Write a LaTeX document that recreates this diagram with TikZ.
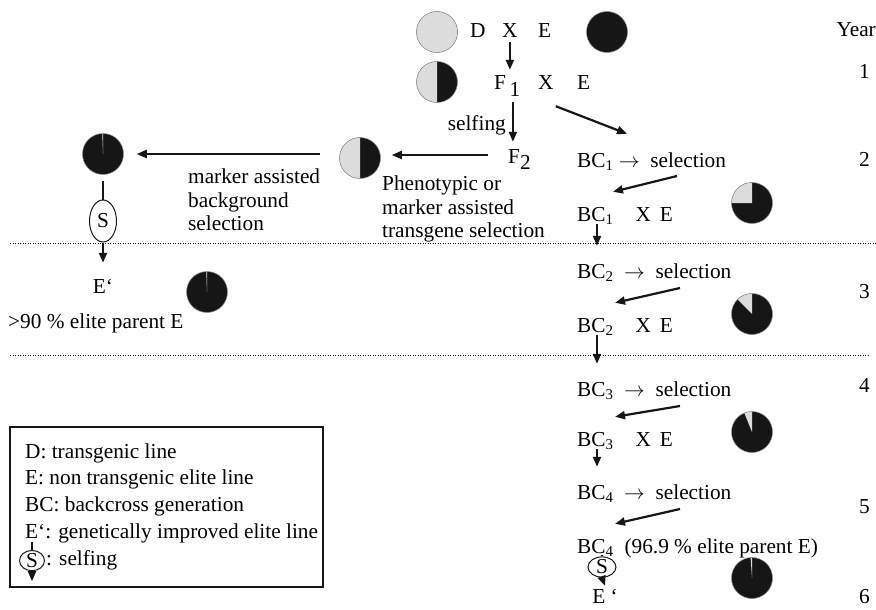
\documentclass[tikz,border=0pt]{standalone}
\usepackage{fontspec}
\setmainfont{Liberation Serif}
\usetikzlibrary{positioning,arrows.meta,shapes.geometric}
\definecolor{ink}{HTML}{161616}
\definecolor{pale}{HTML}{DCDCDC}
\definecolor{rim}{HTML}{8C8C8C}

\begin{document}
\begin{tikzpicture}[x=1pt,y=-1pt,font=\fontsize{21.3}{23.5}\selectfont,
  lbl/.style={inner sep=0pt,text height=14pt,text depth=4pt,anchor=base west},
  para/.style={inner sep=0pt,align=left,anchor=north west},
  flow/.style={-{Triangle[length=10pt,width=8pt]},line width=2.2pt,draw=ink},
  stem/.style={line width=2.4pt,draw=ink},
  disc/.style={circle,minimum size=41pt,inner sep=0pt,fill=ink,draw=rim,line width=0.5pt},
  pie/.style={disc,
    path picture={\fill[pale] (path picture bounding box.center) -- +(90:21pt)
      arc[start angle=90,end angle=90+#1,radius=21pt] -- cycle;}},
  selfnode/.style={ellipse,draw=ink,line width=1pt,inner sep=0pt},
  yearlbl/.style={inner sep=0pt,anchor=base east},
  sep/.style={dotted,draw=ink,line width=0.5pt}]
\useasboundingbox (0,0) rectangle (876,610);

% crossing and F1, F2
\node[pie=360] (donor) at (437,32) {};
\node[lbl] (d) at (470,38) {D};
\node[lbl] (x0) at (502,38) {X};
\node[lbl] (e0) at (538,38) {E};
\node[disc] (elite) at (607,32) {};
\node[pie=180] (hybrid) at (437,82) {};
\node[lbl] (f1) at (494,90) {F\,\raisebox{-6pt}{1}};
\node[lbl] (x1) at (538,90) {X};
\node[lbl] (e1) at (577,90) {E};
\node[lbl,anchor=base east] (selfing) at (506,130) {selfing};
\node[lbl] (f2) at (508,163) {F\raisebox{-6pt}{2}};
\draw[flow] (x0.south) -- ([yshift=6pt]x0.south |- f1.north);
\draw[flow] ([xshift=3pt,yshift=-8pt]x0.south |- f1.south) -- ([xshift=3pt,yshift=7pt]x0.south |- f2.north);

% marker assisted branch
\node[pie=180] (transgen) at (360,158) {};
\node[para] (pheno) at (382,176) {Phenotypic or\\marker assisted\\transgene selection};
\node[pie=2] (bgpie) at (103,154) {};
\node[para] (bgsel) at (188,169) {marker assisted\\background\\selection};
\node[selfnode,minimum width=27pt,minimum height=42pt] (sleft) at (103,221) {S};
\node[lbl,anchor=base] (eleft) at (103,293) {E‘};
\node[pie=2] (finalleft) at (207,292) {};
\node[lbl] (share) at (8,328) {>90 \% elite parent E};
\draw[flow] ([xshift=-20pt,yshift=3pt]f2.west) -- ([xshift=11pt,yshift=3pt]transgen.east);
\draw[flow] ([xshift=-19pt,yshift=4pt]transgen.west) -- ([xshift=13pt]bgpie.east);
\draw[stem] ([yshift=-6pt]bgpie.south) -- (sleft.north);
\draw[flow] (sleft.south) -- ([yshift=16pt]eleft.north);

% backcross branch
\node[lbl] (bc1s) at (577,167) {BC\textsubscript{1} $\rightarrow$\enspace selection};
\node[lbl] (bc1x) at (577,221) {BC\textsubscript{1}\hspace{22pt}X\hspace{9pt}E};
\node[pie=90] (pie1) at (752,203) {};
\node[lbl] (bc2s) at (577,278) {BC\textsubscript{2}\enspace$\rightarrow$\enspace selection};
\node[lbl] (bc2x) at (577,332) {BC\textsubscript{2}\hspace{22pt}X\hspace{9pt}E};
\node[pie=45] (pie2) at (752,314) {};
\node[lbl] (bc3s) at (577,396) {BC\textsubscript{3}\enspace$\rightarrow$\enspace selection};
\node[lbl] (bc3x) at (577,446) {BC\textsubscript{3}\hspace{22pt}X\hspace{9pt}E};
\node[pie=22] (pie3) at (752,432) {};
\node[lbl] (bc4s) at (577,499) {BC\textsubscript{4}\enspace$\rightarrow$\enspace selection};
\node[lbl] (bc4x) at (577,553) {BC\textsubscript{4}\hspace{11pt}(96.9 \% elite parent E)};
\node[selfnode,minimum width=28pt,minimum height=18pt] (sright) at (602,567) {S};
\node[lbl,anchor=base] (eright) at (605,603) {E ‘};
\node[pie=4] (pie4) at (752,578) {};
\draw[flow] ([xshift=2pt,yshift=-12pt]x1.south east) -- ([xshift=50pt,yshift=19pt]bc1s.north west);
\draw[flow] ([xshift=100pt,yshift=-9pt]bc1s.base west) -- ([xshift=36pt,yshift=15pt]bc1x.north west);
\draw[flow] ([xshift=20pt,yshift=-3pt]bc1x.base west) -- ([xshift=20pt,yshift=18pt]bc2s.north west);
\draw[flow] ([xshift=103pt,yshift=-10pt]bc2s.base west) -- ([xshift=38pt,yshift=15pt]bc2x.north west);
\draw[flow] ([xshift=20pt,yshift=-3pt]bc2x.base west) -- ([xshift=20pt,yshift=18pt]bc3s.north west);
\draw[flow] ([xshift=103pt,yshift=-10pt]bc3s.base west) -- ([xshift=38pt,yshift=15pt]bc3x.north west);
\draw[flow] ([xshift=20pt,yshift=-3pt]bc3x.base west) -- ([xshift=20pt,yshift=18pt]bc4s.north west);
\draw[flow] ([xshift=103pt,yshift=-10pt]bc4s.base west) -- ([xshift=38pt,yshift=15pt]bc4x.north west);
\draw[stem] ([xshift=25pt,yshift=-2pt]bc4x.base west) -- (sright.north);
\draw[flow] (sright.south) -- ([yshift=3pt]eright.north);

% years
\node[yearlbl] (year) at (876,37) {Year};
\node[yearlbl] (y1) at (870,78) {1};
\node[yearlbl] (y2) at (870,166) {2};
\node[yearlbl] (y3) at (870,298) {3};
\node[yearlbl] (y4) at (870,392) {4};
\node[yearlbl] (y5) at (870,513) {5};
\node[yearlbl] (y6) at (870,603) {6};
\draw[sep] (10,243) -- (876,243);
\draw[sep] (10,355) -- (870,355);

% legend
\draw[line width=1.8pt,draw=ink] (10,427) rectangle (323,587);
\node[lbl] (key1) at (25,458) {D: transgenic line};
\node[lbl,below=8.5pt of key1.south west,anchor=north west] (key2) {E: non transgenic elite line};
\node[lbl,below=8.5pt of key2.south west,anchor=north west] (key3) {BC: backcross generation};
\node[lbl,below=8.5pt of key3.south west,anchor=north west] (key4) {E‘: genetically improved elite line};
\node[lbl,below=8.5pt of key4.south west,anchor=north west,xshift=21pt] (key5) {: selfing};
\node[selfnode,minimum width=25pt,minimum height=18pt,left=1pt of key5] (keys) {S};
\draw[stem,line width=1.6pt] ([yshift=8pt]keys.north) -- (keys.north);
\draw[flow,line width=1.6pt] (keys.south) -- ([yshift=-10pt]keys.south);
\end{tikzpicture}
\end{document}
